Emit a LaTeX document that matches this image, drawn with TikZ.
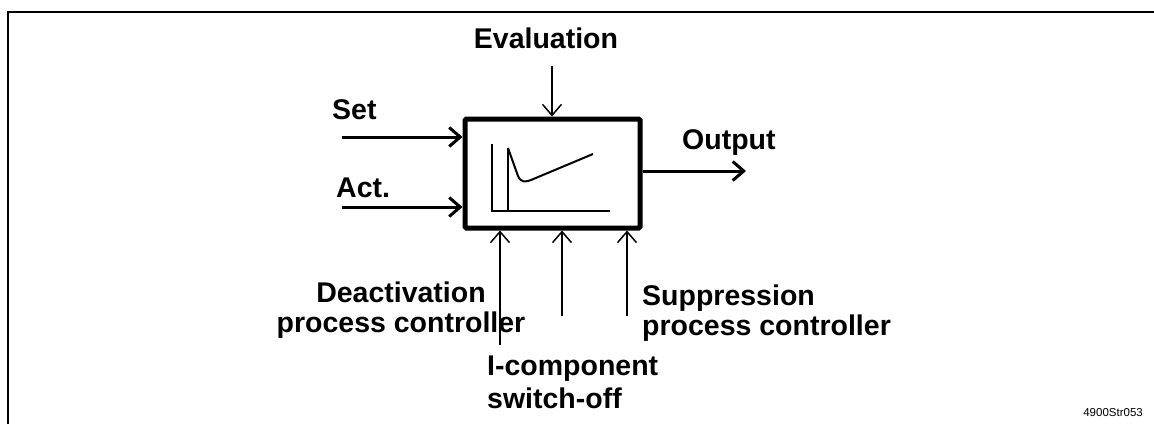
\documentclass[tikz,border=0pt]{standalone}
\usepackage{fontspec}
\setmainfont{Liberation Sans}
\usetikzlibrary{arrows.meta, positioning}

\begin{document}
\begin{tikzpicture}[
  x=1pt, y=-1pt,
  %% --- Node styles ---
  block/.style={
    rectangle, draw, line width=5pt, rounded corners=1.5pt,
    minimum width=175pt, minimum height=109pt, inner sep=0pt
  },
  lbl/.style={font=\fontsize{28.5}{30}\selectfont\bfseries, inner sep=0pt},
  tag/.style={font=\fontsize{11.5}{13}\selectfont, inner sep=0pt},
  %% --- Arrow styles ---
  arrowThick/.style={-{Straight Barb[length=11pt, width=19pt]}, line width=3pt},
  arrowThin/.style={-{Straight Barb[length=11pt, width=19pt]}, line width=1.5pt},
  axis/.style={line width=2pt},
  frameline/.style={line width=2pt}
]
\useasboundingbox (0,0) rectangle (1154,424);

%% =========================================================
%% FRAME
%% =========================================================
\draw[frameline] (8,424) -- (8,12) -- (1154,12);

%% =========================================================
%% NODES
%% =========================================================
\node (ctrl) [block] at (552.5,173.5) {};

\node (evalLbl)  [lbl, anchor=base]      at (546,48)  {Evaluation};
\node (setLbl)   [lbl, anchor=base west] at (332,119) {Set};
\node (actLbl)   [lbl, anchor=base west] at (336,197) {Act.};
\node (outLbl)   [lbl, anchor=base west] at (682,149) {Output};
\node (deactLbl) [lbl, anchor=base, align=center] at (401,332)
      {Deactivation\\process controller};
\node (suppLbl)  [lbl, anchor=base west, align=left] at (642,335)
      {Suppression\\process controller};
\node (icompLbl) [lbl, anchor=base west, align=left] at (487,408)
      {I-component\\[3pt]switch-off};
\node (docTag)   [tag, anchor=base east] at (1143,416) {4900Str053};

%% free ends of the connectors
\coordinate (evalIn)  at (552,66);
\coordinate (setIn)   at (342,137);
\coordinate (actIn)   at (342,207);
\coordinate (outEnd)  at (746,171);
\coordinate (deactIn) at (500,345);
\coordinate (icompIn) at (562,316);
\coordinate (suppIn)  at (627,316);

%% =========================================================
%% ARROWS
%% =========================================================
\draw[arrowThin]  (evalIn) -- (evalIn |- ctrl.north);
\draw[arrowThick] (setIn)  -- (setIn -| ctrl.west);
\draw[arrowThick] (actIn)  -- (actIn -| ctrl.west);
\draw[arrowThick] (outEnd -| ctrl.east) -- (outEnd);
\draw[arrowThin]  (deactIn) -- (deactIn |- ctrl.south);
\draw[arrowThin]  (icompIn) -- (icompIn |- ctrl.south);
\draw[arrowThin]  (suppIn)  -- (suppIn |- ctrl.south);

%% =========================================================
%% CHARACTERISTIC INSIDE THE BLOCK
%% =========================================================
\draw[axis] (492,144) -- (492,211) -- (610,211);
\draw[axis] (508,148) -- (508,211);
\draw[axis, line join=round] (508,148) -- (518,176)
    .. controls (521,183) and (526,182) .. (531,180) -- (593,154);

\end{tikzpicture}
\end{document}
